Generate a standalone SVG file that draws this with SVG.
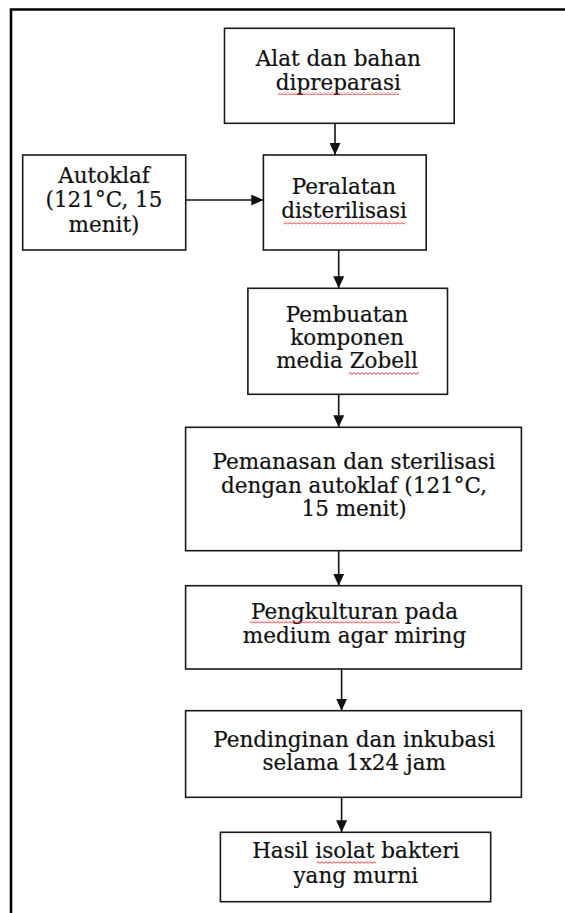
<svg xmlns="http://www.w3.org/2000/svg" width="565" height="913" viewBox="0 0 565 913">
<style>
.box{fill:#fff;stroke:#1a1a1a;stroke-width:1.6}
.t{font-family:"DejaVu Serif","Liberation Serif",serif;font-size:21.5px;fill:#111;stroke:#111;stroke-width:0.2;text-anchor:middle}
.c{stroke:#111;stroke-width:1.6;fill:none;marker-end:url(#ah)}
.w{fill:url(#wave)}
</style>
<defs>
<marker id="ah" markerUnits="userSpaceOnUse" markerWidth="12" markerHeight="11" refX="12" refY="5.5" orient="auto">
<path d="M0,0 L12,5.5 L0,11 z" fill="#111"/>
</marker>
<pattern id="wave" width="4" height="3" patternUnits="userSpaceOnUse">
<path d="M0,2.3 L2,0.7 L4,2.3" stroke="#e02020" stroke-width="0.9" fill="none"/>
</pattern>
</defs>
<rect width="565" height="913" fill="#fff"/>
<path d="M11,913 V9.5 H565" fill="none" stroke="#000" stroke-width="2.6"/>

<g id="connectors">
<line class="c" x1="335" y1="123.3" x2="335" y2="155"/>
<line class="c" x1="185.7" y1="200" x2="263.3" y2="200"/>
<line class="c" x1="338.7" y1="250" x2="338.7" y2="288.3"/>
<line class="c" x1="338.7" y1="394.3" x2="338.7" y2="427.3"/>
<line class="c" x1="338.7" y1="550.7" x2="338.7" y2="585.7"/>
<line class="c" x1="341.6" y1="669" x2="341.6" y2="710.7"/>
<line class="c" x1="341.6" y1="797.3" x2="341.6" y2="832.3"/>
</g>

<g id="n1">
<rect class="box" x="224.5" y="28.3" width="229.7" height="95"/>
<text class="t" x="338.3" y="66">Alat dan bahan</text>
<text class="t" x="338.3" y="89.5">dipreparasi</text>
<rect class="w" x="278" y="92" width="121" height="3"/>
</g>

<g id="n0">
<rect class="box" x="22.7" y="155" width="163" height="95"/>
<text class="t" x="104" y="183">Autoklaf</text>
<text class="t" x="104" y="207">(121°C, 15</text>
<text class="t" x="104" y="231.5">menit)</text>
</g>

<g id="n2">
<rect class="box" x="263.4" y="155" width="162.8" height="95"/>
<text class="t" x="344" y="194.3">Peralatan</text>
<text class="t" x="344" y="218.3">disterilisasi</text>
<rect class="w" x="283.6" y="221.5" width="121.7" height="3"/>
</g>

<g id="n3">
<rect class="box" x="247.9" y="288.3" width="199.6" height="106"/>
<text class="t" x="347" y="321.7">Pembuatan</text>
<text class="t" x="347" y="344.5">komponen</text>
<text class="t" x="347" y="368.3">media Zobell</text>
<rect class="w" x="348.8" y="372" width="70.2" height="3"/>
</g>

<g id="n4">
<rect class="box" x="185.6" y="427.3" width="335.8" height="123.4"/>
<text class="t" x="354" y="469">Pemanasan dan sterilisasi</text>
<text class="t" x="354" y="492.5">dengan autoklaf (121°C,</text>
<text class="t" x="354" y="516">15 menit)</text>
</g>

<g id="n5">
<rect class="box" x="185.6" y="585.7" width="335.8" height="83.3"/>
<text class="t" x="354.5" y="619">Pengkulturan pada</text>
<text class="t" x="354.5" y="643">medium agar miring</text>
<rect class="w" x="250" y="620.5" width="150" height="3"/>
</g>

<g id="n6">
<rect class="box" x="185.6" y="710.7" width="335.8" height="86.6"/>
<text class="t" x="354.2" y="746.7">Pendinginan dan inkubasi</text>
<text class="t" x="354.2" y="770">selama 1x24 jam</text>
</g>

<g id="n7">
<rect class="box" x="220.4" y="832.3" width="270.3" height="69.4"/>
<text class="t" x="355.8" y="858">Hasil isolat bakteri</text>
<text class="t" x="355.8" y="883">yang murni</text>
<rect class="w" x="316.7" y="861" width="59.3" height="3"/>
</g>
</svg>
